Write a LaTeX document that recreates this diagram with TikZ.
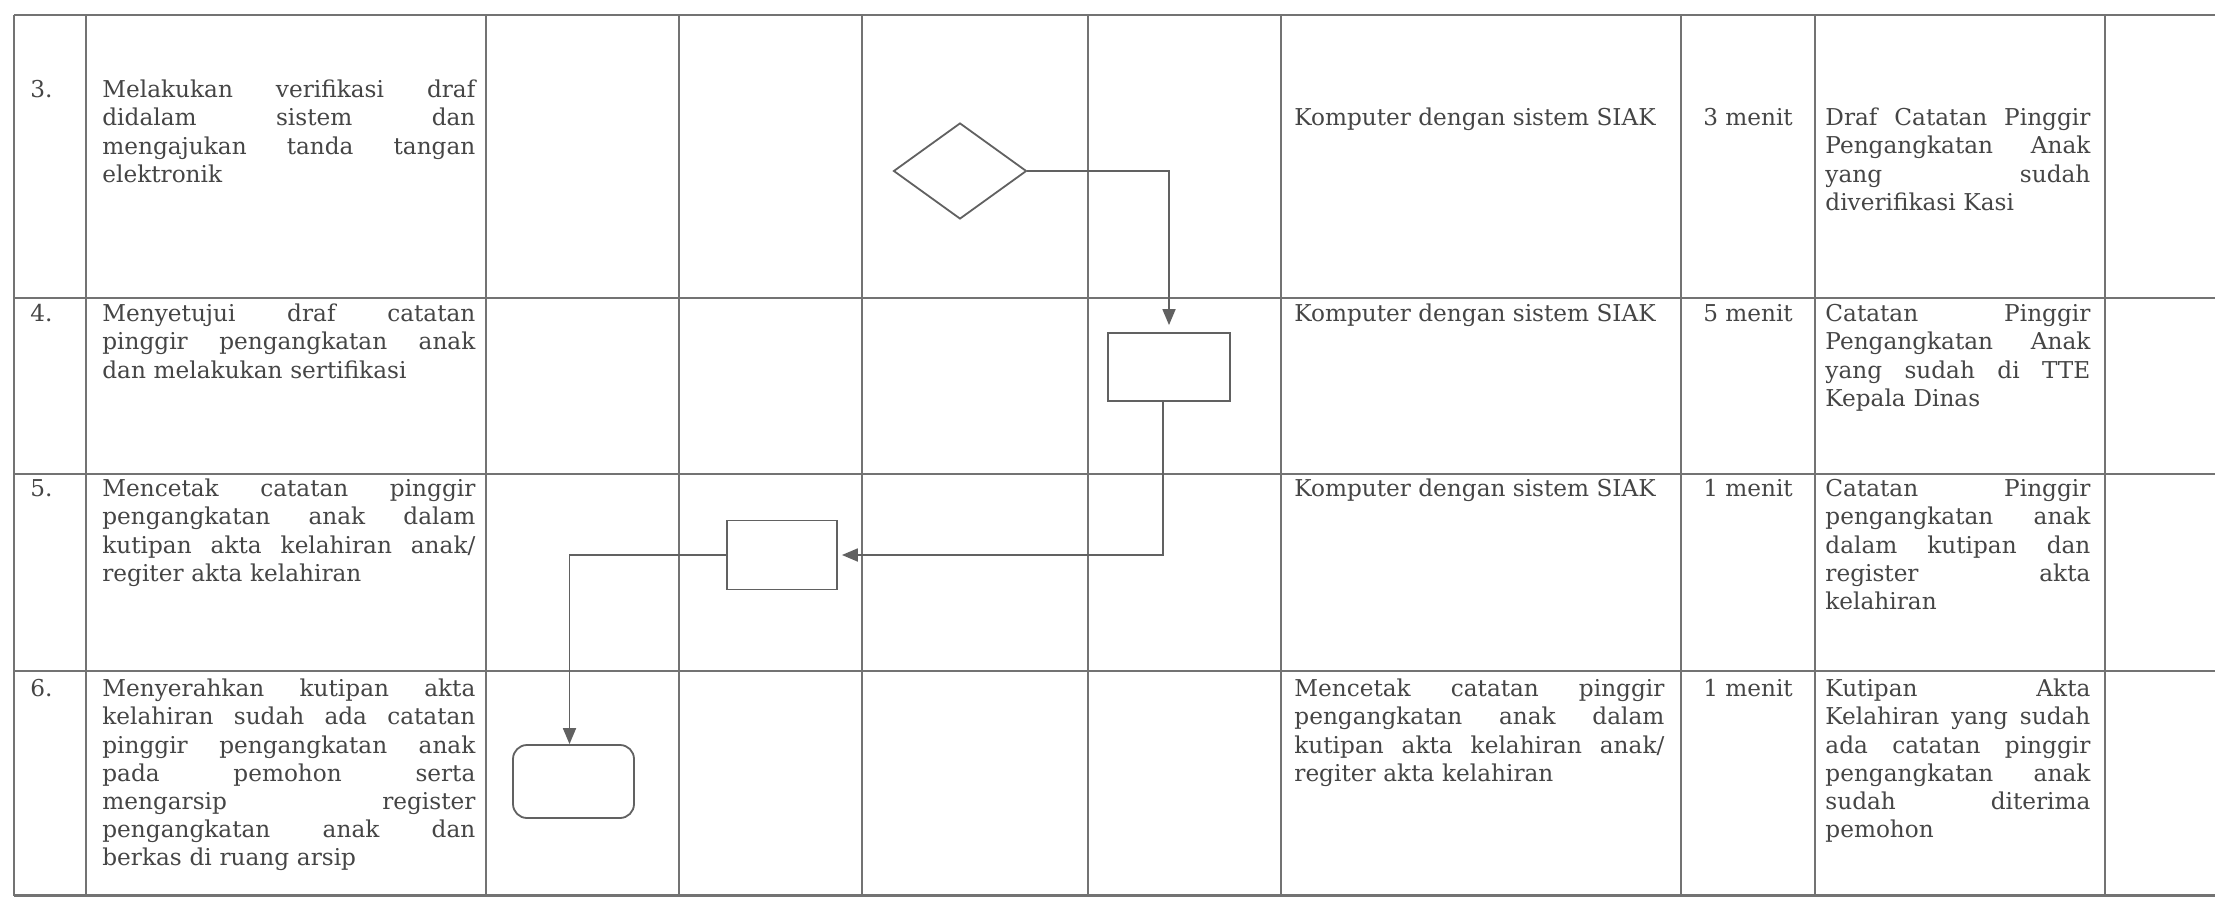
\documentclass[tikz,border=0pt]{standalone}
\usepackage{fontspec}
\setmainfont{DejaVu Serif}
\usetikzlibrary{shapes.geometric,arrows.meta,calc}
\definecolor{linecol}{gray}{0.45}
\definecolor{flowcol}{gray}{0.38}
\definecolor{textcol}{gray}{0.27}
\newcommand{\txtfont}{\fontsize{11.6}{14.1}\selectfont}
\newcommand{\fitline}[2]{\leavevmode\hbox to #1{\spaceskip=0.3em plus 1fil\relax #2}}
\newcommand{\jl}[1]{\fitline{186.5pt}{#1}}
\newcommand{\jk}[1]{\fitline{185pt}{#1}}
\newcommand{\jr}[1]{\fitline{132.5pt}{#1}}
\begin{document}
\begin{tikzpicture}[x=0.5pt,y=-0.5pt,
  gridline/.style={draw=linecol,line width=1.1pt},
  txt/.style={anchor=north west,inner sep=0pt,font=\txtfont,text=textcol},
  ctxt/.style={anchor=north,inner sep=0pt,font=\txtfont,text=textcol},
  flow/.style={draw=flowcol,line width=0.9pt},
  arr/.style={flow,-{Triangle[length=8pt,width=6.5pt]}},
  procbox/.style={flow,rectangle,inner sep=0pt,fill=white},
  decbox/.style={flow,diamond,inner sep=0pt,fill=white},
  endbox/.style={flow,rectangle,rounded corners=7pt,inner sep=0pt,fill=white}]
\useasboundingbox (0,0) rectangle (2215,898);
\fill[white] (0,0) rectangle (2215,898);
% table grid
\foreach \y in {15,298,474,671,895.5} \draw[gridline] (14,\y) -- (2215,\y);
\foreach \x in {14,86,486,679,862,1088,1281,1681,1815,2105} \draw[gridline] (\x,15) -- (\x,895.5);

% row 3
\node[txt] (n3) at (30,77.5) {\strut 3.};
\node[txt,text width=186.5pt] (a3) at (102,77.5) {\strut\jl{Melakukan verifikasi draf}\\\jl{didalam sistem dan}\\\jl{mengajukan tanda tangan}\\elektronik};
\node[txt] (k3) at (1294,105.5) {\strut Komputer dengan sistem SIAK};
\node[ctxt] (m3) at (1748,105.5) {\strut 3 menit};
\node[txt,text width=132.5pt] (r3) at (1825,105.5) {\strut\jr{Draf Catatan Pinggir}\\\jr{Pengangkatan Anak}\\\jr{yang sudah}\\diverifikasi Kasi};

% row 4
\node[txt] (n4) at (30,301.5) {\strut 4.};
\node[txt,text width=186.5pt] (a4) at (102,301.5) {\strut\jl{Menyetujui draf catatan}\\\jl{pinggir pengangkatan anak}\\dan melakukan sertifikasi};
\node[txt] (k4) at (1294,301.5) {\strut Komputer dengan sistem SIAK};
\node[ctxt] (m4) at (1748,301.5) {\strut 5 menit};
\node[txt,text width=132.5pt] (r4) at (1825,301.5) {\strut\jr{Catatan Pinggir}\\\jr{Pengangkatan Anak}\\\jr{yang sudah di TTE}\\Kepala Dinas};

% row 5
\node[txt] (n5) at (30,476.5) {\strut 5.};
\node[txt,text width=186.5pt] (a5) at (102,476.5) {\strut\jl{Mencetak catatan pinggir}\\\jl{pengangkatan anak dalam}\\\jl{kutipan akta kelahiran anak/}\\regiter akta kelahiran};
\node[txt] (k5) at (1294,476.5) {\strut Komputer dengan sistem SIAK};
\node[ctxt] (m5) at (1748,476.5) {\strut 1 menit};
\node[txt,text width=132.5pt] (r5) at (1825,476.5) {\strut\jr{Catatan Pinggir}\\\jr{pengangkatan anak}\\\jr{dalam kutipan dan}\\\jr{register akta}\\kelahiran};

% row 6
\node[txt] (n6) at (30,676.5) {\strut 6.};
\node[txt,text width=186.5pt] (a6) at (102,676.5) {\strut\jl{Menyerahkan kutipan akta}\\\jl{kelahiran sudah ada catatan}\\\jl{pinggir pengangkatan anak}\\\jl{pada pemohon serta}\\\jl{mengarsip register}\\\jl{pengangkatan anak dan}\\berkas di ruang arsip};
\node[txt,text width=185pt] (k6) at (1294,676.5) {\strut\jk{Mencetak catatan pinggir}\\\jk{pengangkatan anak dalam}\\\jk{kutipan akta kelahiran anak/}\\regiter akta kelahiran};
\node[ctxt] (m6) at (1748,676.5) {\strut 1 menit};
\node[txt,text width=132.5pt] (r6) at (1825,676.5) {\strut\jr{Kutipan Akta}\\\jr{Kelahiran yang sudah}\\\jr{ada catatan pinggir}\\\jr{pengangkatan anak}\\\jr{sudah diterima}\\pemohon};

% flowchart
\node[decbox,minimum width=66.5pt,minimum height=48pt] (d3) at (960,171) {};
\node[procbox,minimum width=61pt,minimum height=34pt] (b4) at (1169,367) {};
\node[procbox,minimum width=55pt,minimum height=34.5pt] (b5) at (782,555) {};
\node[endbox,minimum width=60.5pt,minimum height=36.5pt] (b6) at (573.5,781.5) {};

\draw[arr,shorten >=3.5pt] (d3.east) -| (b4.north);
\draw[arr,shorten >=2pt] ([xshift=-3pt]b4.south) |- (b5.east);
\draw[arr] (b5.west) -| ([xshift=-2pt]b6.north);
\end{tikzpicture}
\end{document}
